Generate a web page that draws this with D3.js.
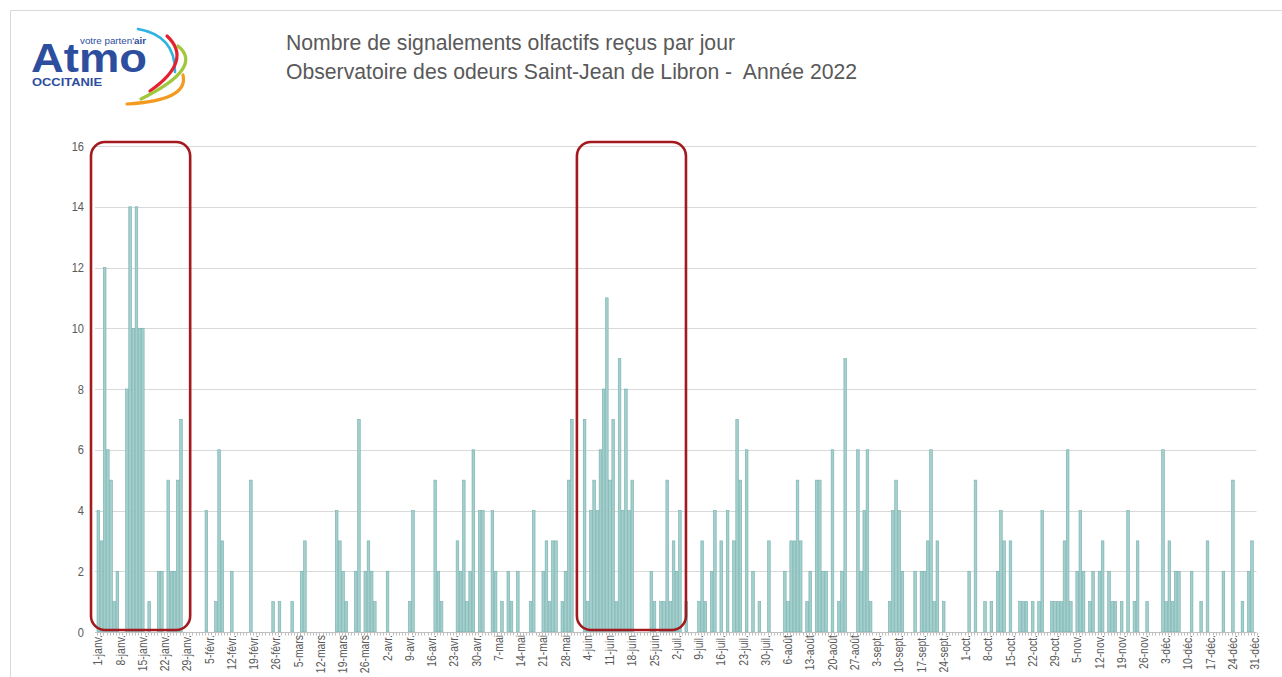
<!DOCTYPE html>
<html lang="fr"><head><meta charset="utf-8">
<script src="https://cdn.jsdelivr.net/npm/d3@7"></script>
<style>
html,body{margin:0;padding:0;background:#fff;}
svg{display:block;}
text{white-space:pre;}
</style></head>
<body>
<svg id="chart" width="1282" height="677"></svg>
<script>
// Daily counts of odour reports, 2022, one array per month
const janv = [4,3,12,6,5,1,2,0,0,8,14,10,14,10,10,0,1,0,0,2,2,0,5,2,2,5,7,0,0,0,0];
const fevr = [0,0,0,4,0,0,1,6,3,0,0,2,0,0,0,0,0,5,0,0,0,0,0,0,1,0,1,0];
const mars = [0,0,1,0,0,2,3,0,0,0,0,0,0,0,0,0,4,3,2,1,0,0,2,7,0,2,3,2,1,0,0];
const avr  = [0,2,0,0,0,0,0,0,1,4,0,0,0,0,0,0,5,2,1,0,0,0,0,3,2,5,1,2,6,0];
const mai  = [4,4,0,0,4,2,0,1,0,2,1,0,2,0,0,0,1,4,0,0,2,3,1,3,3,0,1,2,5,7,0];
const juin = [0,0,7,1,4,5,4,6,8,11,5,7,1,9,4,8,4,5,0,0,0,0,0,2,1,0,1,1,5,1];
const juil = [3,2,4,0,1,0,0,0,1,3,1,0,2,4,0,3,0,4,0,3,7,5,0,6,0,2,0,1,0,0,3];
const aout = [0,0,0,0,2,1,3,3,5,3,0,1,2,0,5,5,2,2,0,6,0,1,2,9,0,0,0,6,2,4,6];
const sept = [1,0,0,0,0,0,1,4,5,4,2,0,0,0,2,0,2,2,3,6,1,3,0,1,0,0,0,0,0,0];
const oct  = [0,2,0,5,0,0,1,0,1,0,2,4,3,0,3,0,0,1,1,1,0,1,0,1,4,0,0,1,1,1,1];
const nov  = [3,6,1,0,2,4,2,0,1,2,0,2,3,0,2,1,1,0,1,0,4,0,1,3,0,0,1,0,0,0];
const dec  = [0,6,1,3,1,2,2,0,0,0,2,0,0,1,0,3,0,0,0,0,2,0,0,5,0,0,1,0,2,3,0];

// weekly tick labels (every 7th day starting 1 Jan)
const tickLabels = ["1-janv.","8-janv.","15-janv.","22-janv.","29-janv.","5-févr.","12-févr.","19-févr.","26-févr.",
  "5-mars","12-mars","19-mars","26-mars","2-avr.","9-avr.","16-avr.","23-avr.","30-avr.","7-mai","14-mai","21-mai","28-mai",
  "4-juin","11-juin","18-juin","25-juin","2-juil.","9-juil.","16-juil.","23-juil.","30-juil.","6-août","13-août","20-août","27-août",
  "3-sept.","10-sept.","17-sept.","24-sept.","1-oct.","8-oct.","15-oct.","22-oct.","29-oct.","5-nov.","12-nov.","19-nov.","26-nov.",
  "3-déc.","10-déc.","17-déc.","24-déc.","31-déc."];
const yTicks = [0,2,4,6,8,10,12,14,16];
const titleLines = ["Nombre de signalements olfactifs reçus par jour",
                    "Observatoire des odeurs Saint-Jean de Libron -  Année 2022"];
// highlighted periods (day index ranges)
const highlightPeriods = [[0, 28], [151, 184]];

const values = [].concat(janv, fevr, mars, avr, mai, juin, juil, aout, sept, oct, nov, dec);
const days = d3.range(values.length);

const svg = d3.select("#chart");
const font = "'Liberation Sans',Arial,sans-serif";
const txt = "#595959";

// frame
svg.append("path").attr("d", "M10.5,700V10.5H1290").attr("fill","none").attr("stroke","#d9d9d9");

const x = d3.scaleBand().domain(days).range([97, 1256.5]).paddingInner(0.17).paddingOuter(0);
const y = d3.scaleLinear().domain([0,16]).range([632,146]);

// gridlines
svg.append("g").selectAll("line").data(yTicks.filter(d=>d>0)).join("line")
  .attr("x1", 95).attr("x2", 1256.5)
  .attr("y1", d=>Math.round(y(d))+0.5).attr("y2", d=>Math.round(y(d))+0.5)
  .attr("stroke","#d9d9d9").attr("stroke-width",1);

// y labels (condensed)
svg.append("g").selectAll("text").data(yTicks).join("text")
  .attr("transform", d=>`translate(84,${y(d)}) scale(0.85,1)`)
  .attr("dy","0.35em")
  .attr("text-anchor","end").attr("fill",txt)
  .style("font-family", font).style("font-size","13px")
  .text(d=>d);

// bars
svg.append("g").selectAll("rect").data(days.filter(d=>values[d]>0)).join("rect")
  .attr("x", d=>x(d)).attr("width", x.bandwidth())
  .attr("y", d=>y(values[d])).attr("height", d=>y(0)-y(values[d]))
  .attr("fill","#a3cfcd").attr("stroke","#74afad").attr("stroke-width",0.6);

// x axis line + daily ticks
svg.append("line").attr("x1",95).attr("x2",1256.5).attr("y1",632.5).attr("y2",632.5)
  .attr("stroke","#bfbfbf");
svg.append("g").selectAll("line").data(days.concat([values.length])).join("line")
  .attr("x1", d=>Math.round(x.range()[0] + d*x.step())+0.5)
  .attr("x2", d=>Math.round(x.range()[0] + d*x.step())+0.5)
  .attr("y1",632.5).attr("y2",635.5).attr("stroke","#bfbfbf");

// x labels (condensed, rotated)
svg.append("g").selectAll("text").data(tickLabels).join("text")
  .attr("transform", (d,i)=>`translate(${x(i*7)+x.bandwidth()/2-0.5},635) rotate(-90) scale(0.8,1)`)
  .attr("dy","0.35em").attr("text-anchor","end").attr("fill",txt)
  .style("font-family", font).style("font-size","13px")
  .text(d=>d);

// highlight boxes
const boxPads = [[6,1],[0,1]];
svg.append("g").selectAll("rect").data(highlightPeriods).join("rect")
  .attr("x",(d,i)=>x(d[0])-boxPads[i][0])
  .attr("width",(d,i)=>x(d[1])+x.step()+boxPads[i][1]-(x(d[0])-boxPads[i][0]))
  .attr("y", y(16)-4).attr("height", y(0)-2-(y(16)-4))
  .attr("rx",14).attr("ry",14)
  .attr("fill","none").attr("stroke","#a3191d").attr("stroke-width",2.6);

// title
svg.append("g").selectAll("text").data(titleLines).join("text")
  .attr("x",286).attr("y",(d,i)=>50+i*29)
  .attr("fill",txt).style("font-family",font).style("font-size","22px")
  .attr("textLength",(d,i)=>i===0?449:571).attr("lengthAdjust","spacingAndGlyphs")
  .text(d=>d);

// logo
const logo = svg.append("g");
const blue = "#2d4e9e";
logo.append("text").attr("x",31).attr("y",72).attr("fill",blue)
  .style("font-family",font).style("font-weight","bold").style("font-size","40px")
  .attr("textLength",116).attr("lengthAdjust","spacingAndGlyphs").text("Atmo");
logo.append("text").attr("x",32).attr("y",86).attr("fill",blue)
  .style("font-family",font).style("font-weight","bold").style("font-size","10px")
  .attr("textLength",70).attr("lengthAdjust","spacingAndGlyphs").text("OCCITANIE");
const tag = logo.append("text").attr("x",80).attr("y",44).attr("fill",blue)
  .style("font-family",font).style("font-size","9.5px")
  .attr("textLength",66).attr("lengthAdjust","spacingAndGlyphs");
tag.append("tspan").text("votre parten'");
tag.append("tspan").style("font-weight","bold").text("air");
const arcs = [
  {c:"#2fb3e3", w:2.6, p:[[138,29],[166,43],[175,72]]},
  {c:"#e3222f", w:3.2, p:[[167,36],[176,62],[150,91]]},
  {c:"#a1c83c", w:3.2, p:[[178,46],[182,70],[141,99]]},
  {c:"#f29b20", w:3.2, p:[[183,75],[172,95],[127,104]]}
];
arcs.forEach(a=>{
  const [s,m,e]=a.p;
  const cx=2*m[0]-(s[0]+e[0])/2, cy=2*m[1]-(s[1]+e[1])/2;
  logo.append("path").attr("d",`M${s[0]},${s[1]}Q${cx},${cy} ${e[0]},${e[1]}`)
    .attr("fill","none").attr("stroke",a.c).attr("stroke-width",a.w).attr("stroke-linecap","round");
});
</script>
</body></html>
